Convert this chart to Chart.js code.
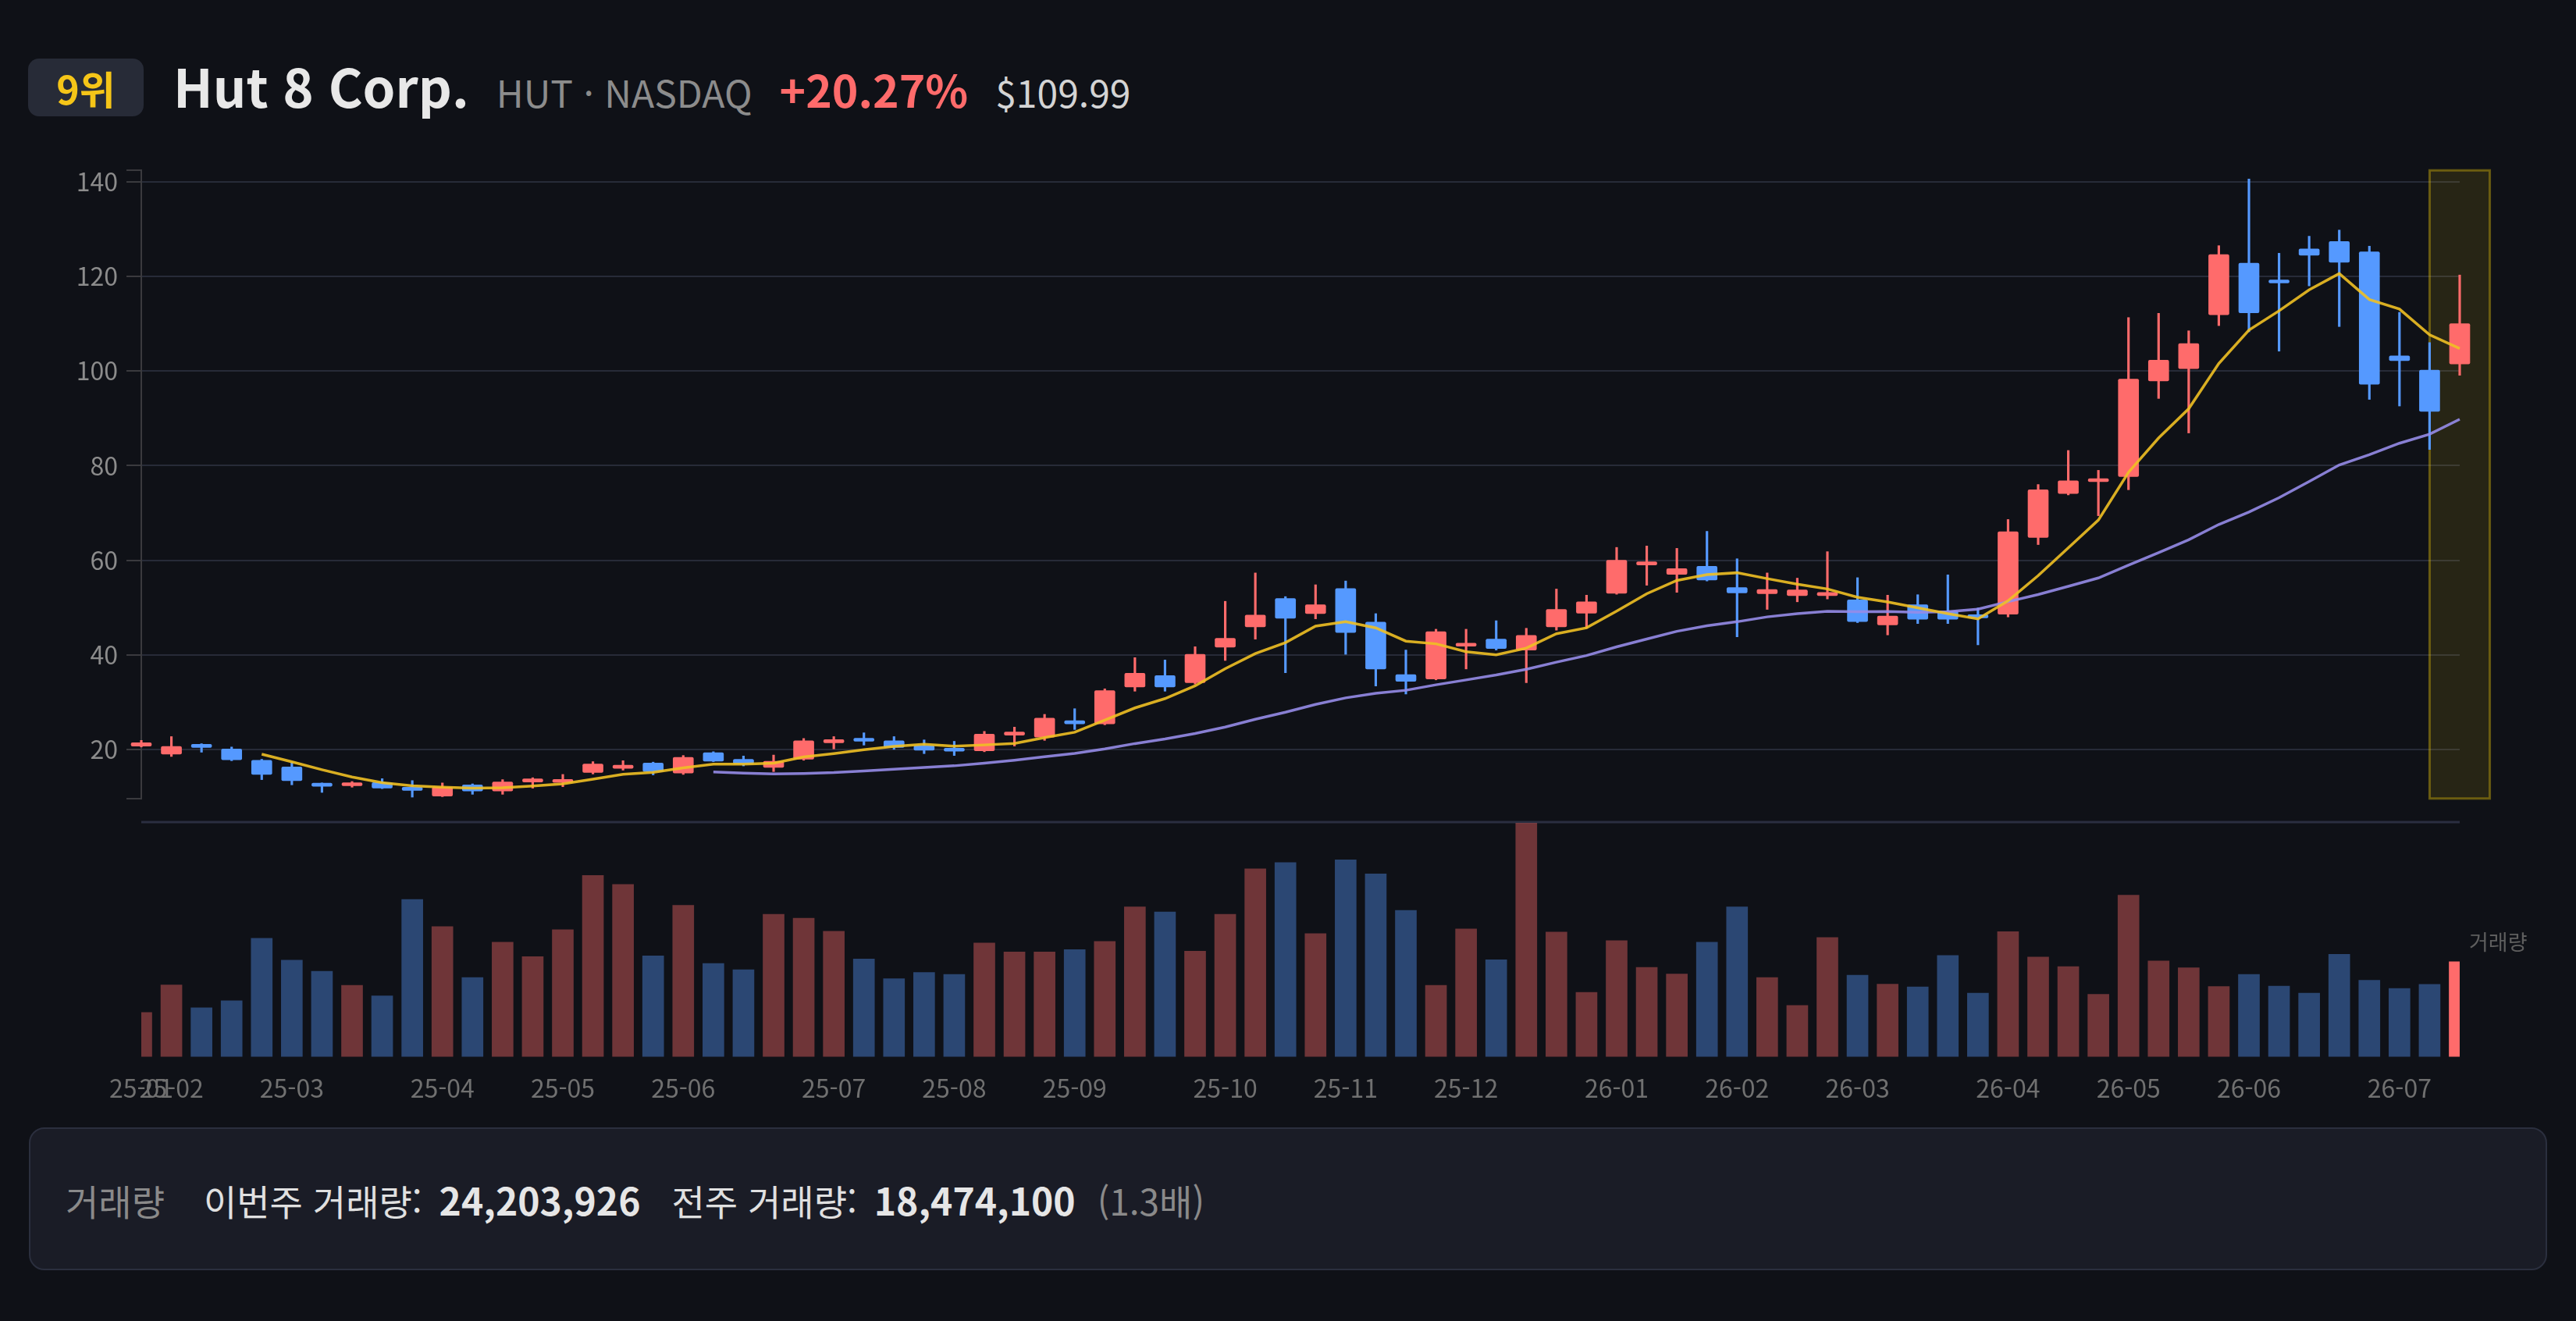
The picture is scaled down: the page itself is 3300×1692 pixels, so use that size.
<!DOCTYPE html>
<html lang="ko">
<head>
<meta charset="utf-8">
<title>Hut 8 Corp. 주봉</title>
<script src="https://cdn.jsdelivr.net/npm/chart.js@4.4.1/dist/chart.umd.min.js"></script>
<style>
  html, body { margin: 0; padding: 0; background: #0f1117; }
  body { width: 3300px; height: 1692px; position: relative; overflow: hidden;
         font-family: "Noto Sans CJK KR", "Noto Sans", sans-serif; }
  #header { position: absolute; left: 36px; top: 75px; height: 74px; display: flex; align-items: center; }
  .badge { width: 148px; height: 74px; border-radius: 14px; background: #272b37; color: #f5c518;
           font-weight: 700; font-size: 50px; display: flex; align-items: center; justify-content: center; }
  .titles { display: flex; align-items: baseline; margin-left: 38px; gap: 35px; position: relative; top: -4px; white-space: nowrap; }
  .name { font-size: 67px; font-weight: 700; color: #e8e8e8; }
  .ticker { font-size: 48px; color: #8c8c8c; }
  .pct { font-size: 57px; font-weight: 700; color: #ff6b6b; }
  .price { font-size: 48px; color: #d4d4d4; }
  #priceWrap { position: absolute; left: 0; top: 188px; width: 3300px; height: 865px; }
  #volWrap { position: absolute; left: 0; top: 1040px; width: 3300px; height: 404px; }
  #volLabel { position: absolute; left: 3163px; top: 1186px; font-size: 27px; color: #5e5e5e; }
  #footer { position: absolute; left: 37px; top: 1444px; width: 3226px; height: 183px; box-sizing: border-box;
            border: 2px solid #2b2f3e; border-radius: 20px; background: #1a1c26;
            display: flex; align-items: center; padding-left: 45px; white-space: nowrap; }
  .frow { display: flex; align-items: baseline; }
  .flabel { font-size: 46px; color: #8a8a8a; margin-right: 50px; }
  .fk { font-size: 46px; color: #e0e0e0; margin-right: 22px; }
  .fv { font-size: 48px; font-weight: 700; color: #e6e6e6; }
  .fr { font-size: 46px; color: #8a8a8a; margin-left: 28px; }
</style>
</head>
<body>
<div id="header">
  <div class="badge">9위</div>
  <div class="titles">
    <span class="name">Hut 8 Corp.</span>
    <span class="ticker">HUT · NASDAQ</span>
    <span class="pct">+20.27%</span>
    <span class="price">$109.99</span>
  </div>
</div>
<div id="priceWrap"><canvas id="priceChart"></canvas></div>
<div id="volWrap"><canvas id="volumeChart"></canvas></div>
<div id="volLabel">거래량</div>
<div id="footer">
  <div class="frow">
    <span class="flabel">거래량</span>
    <span class="fk">이번주 거래량:</span>
    <span class="fv" style="margin-right:40px">24,203,926</span>
    <span class="fk">전주 거래량:</span>
    <span class="fv">18,474,100</span>
    <span class="fr">(1.3배)</span>
  </div>
</div>
<script>
// 주봉 데이터 (월요일 기준)
const weeks = [
  '2025-01-27',
  '2025-02-03', '2025-02-10', '2025-02-17', '2025-02-24',
  '2025-03-03', '2025-03-10', '2025-03-17', '2025-03-24', '2025-03-31',
  '2025-04-07', '2025-04-14', '2025-04-21', '2025-04-28',
  '2025-05-05', '2025-05-12', '2025-05-19', '2025-05-26',
  '2025-06-02', '2025-06-09', '2025-06-16', '2025-06-23', '2025-06-30',
  '2025-07-07', '2025-07-14', '2025-07-21', '2025-07-28',
  '2025-08-04', '2025-08-11', '2025-08-18', '2025-08-25',
  '2025-09-01', '2025-09-08', '2025-09-15', '2025-09-22', '2025-09-29',
  '2025-10-06', '2025-10-13', '2025-10-20', '2025-10-27',
  '2025-11-03', '2025-11-10', '2025-11-17', '2025-11-24',
  '2025-12-01', '2025-12-08', '2025-12-15', '2025-12-22', '2025-12-29',
  '2026-01-05', '2026-01-12', '2026-01-19', '2026-01-26',
  '2026-02-02', '2026-02-09', '2026-02-16', '2026-02-23',
  '2026-03-02', '2026-03-09', '2026-03-16', '2026-03-23', '2026-03-30',
  '2026-04-06', '2026-04-13', '2026-04-20', '2026-04-27',
  '2026-05-04', '2026-05-11', '2026-05-18', '2026-05-25',
  '2026-06-01', '2026-06-08', '2026-06-15', '2026-06-22', '2026-06-29',
  '2026-07-06', '2026-07-13', '2026-07-20'
];

const opens = [
  20.7, 19.0, 21.0, 20.1, 17.7, 16.3, 12.5, 12.3, 13.0, 12.0,
  10.1, 12.5, 11.2, 13.1, 13.0, 15.1, 16.0, 17.1, 15.0, 19.3,
  17.9, 16.2, 17.9, 21.4, 22.1, 21.8, 20.8, 19.9, 19.7, 23.0,
  22.6, 25.7, 25.4, 33.2, 35.6, 34.1, 41.6, 45.9, 51.9, 48.7,
  54.0, 46.9, 35.8, 34.9, 41.8, 43.3, 41.0, 45.9, 48.8, 53.0,
  59.0, 57.0, 58.7, 54.2, 52.9, 52.5, 52.5, 51.6, 46.3, 50.6,
  49.2, 48.1, 48.6, 64.8, 74.1, 76.6, 77.7, 97.9, 100.5, 111.9,
  122.8, 118.8, 125.8, 127.4, 125.2, 103.2, 100.2, 101.5
];
const highs = [
  21.9, 22.7, 21.2, 20.5, 17.9, 17.3, 12.9, 13.2, 13.8, 13.4,
  12.9, 12.7, 13.6, 14.0, 14.7, 17.4, 17.6, 17.3, 18.7, 19.5,
  18.6, 18.8, 22.3, 22.7, 23.5, 22.7, 22.0, 21.7, 23.8, 24.7,
  27.4, 28.6, 32.8, 39.4, 38.9, 41.7, 51.3, 57.3, 52.3, 54.8,
  55.6, 48.7, 41.0, 45.4, 45.4, 47.2, 45.6, 53.9, 52.6, 62.7,
  63.0, 62.5, 66.1, 60.3, 57.3, 56.2, 61.8, 56.3, 52.6, 52.7,
  56.9, 49.9, 68.6, 76.0, 83.2, 79.0, 111.3, 112.2, 108.5, 126.5,
  140.6, 124.9, 128.5, 129.8, 126.4, 112.4, 106.0, 120.3
];
const lows = [
  20.5, 18.5, 19.4, 17.6, 13.6, 12.5, 10.9, 12.0, 11.7, 9.9,
  10.0, 10.5, 10.5, 11.8, 12.1, 14.8, 15.6, 14.6, 14.7, 17.4,
  16.5, 15.3, 17.7, 20.1, 20.9, 20.0, 19.1, 18.7, 19.5, 20.7,
  21.9, 24.2, 25.2, 32.3, 32.3, 33.8, 38.8, 43.3, 36.2, 47.6,
  40.1, 33.4, 31.7, 34.7, 37.0, 41.0, 34.1, 45.2, 45.6, 52.8,
  54.7, 53.2, 55.6, 43.8, 49.6, 51.2, 51.8, 46.8, 44.2, 46.6,
  46.6, 42.1, 48.0, 63.3, 73.8, 69.4, 74.9, 94.2, 86.9, 109.6,
  108.3, 104.2, 118.0, 109.4, 94.0, 92.6, 83.4, 99.1
];
const closes = [
  21.4, 20.6, 20.4, 17.8, 14.7, 13.4, 12.2, 12.7, 11.8, 11.3,
  12.0, 11.2, 13.1, 13.6, 13.6, 16.9, 16.4, 15.3, 18.3, 17.5,
  16.9, 17.5, 21.8, 21.8, 21.7, 20.4, 19.8, 19.6, 23.2, 23.3,
  26.6, 25.4, 32.4, 36.1, 33.2, 40.1, 43.5, 48.4, 47.7, 50.6,
  44.7, 37.0, 34.4, 44.9, 42.3, 41.3, 44.1, 49.6, 51.2, 60.0,
  59.6, 58.2, 55.8, 53.1, 53.8, 53.7, 53.2, 47.0, 48.2, 47.5,
  47.5, 47.8, 66.0, 74.9, 76.8, 76.9, 98.3, 102.3, 105.8, 124.6,
  112.3, 118.6, 124.5, 123.0, 97.2, 102.2, 91.45, 109.99
];
const volumes = [
  11300000, 18300000, 12500000, 14300000, 30200000, 24600000, 21800000, 18200000, 15500000, 40100000,
  33200000, 20200000, 29200000, 25500000, 32400000, 46200000, 43900000, 25700000, 38600000, 23800000,
  22200000, 36300000, 35300000, 32000000, 24900000, 19900000, 21500000, 21000000, 29000000, 26700000,
  26700000, 27300000, 29400000, 38200000, 36900000, 26900000, 36300000, 47900000, 49500000, 31400000,
  50200000, 46600000, 37300000, 18200000, 32600000, 24700000, 59600000, 31800000, 16400000, 29600000,
  22800000, 21100000, 29200000, 38200000, 20200000, 13100000, 30400000, 20800000, 18500000, 17800000,
  25800000, 16200000, 31900000, 25400000, 23000000, 15900000, 41200000, 24400000, 22700000, 17900000,
  21000000, 18000000, 16200000, 26100000, 19500000, 17400000, 18474100, 24203926
];
const priceTicks = [20, 40, 60, 80, 100, 120, 140];

const UP = '#ff6b6b';
const DOWN = '#5599ff';
const last = weeks.length - 1;

Chart.defaults.font.family = '"Noto Sans CJK KR", "Noto Sans", sans-serif';
Chart.defaults.animation = false;

// 이동평균 (종가 기준)
function movingAverage(values, n) {
  return values.map((v, i) => {
    if (i < n - 1) return null;
    let sum = 0;
    for (let k = i - n + 1; k <= i; k++) sum += values[k];
    return sum / n;
  });
}

function monthLabel(i) {
  const cur = weeks[i].slice(2, 7);
  if (i === 0 || weeks[i - 1].slice(2, 7) !== cur) return cur;
  return '';
}

const isUp = closes.map((c, i) => c >= opens[i]);
const candleColors = isUp.map(u => (u ? UP : DOWN));
const yMin = Math.min(...lows) * 0.97;
const yMax = Math.max(...highs) * 1.013;

// 마지막 주 강조 박스
const highlightLast = {
  id: 'highlightLast',
  beforeDatasetsDraw(chart) {
    const { ctx, chartArea, scales } = chart;
    const x = scales.x;
    const cx = x.getPixelForValue(last);
    const step = x.getPixelForValue(1) - x.getPixelForValue(0);
    ctx.save();
    ctx.fillStyle = 'rgba(255, 214, 10, 0.1)';
    ctx.fillRect(cx - step, chartArea.top, step * 2, chartArea.bottom - chartArea.top);
    ctx.strokeStyle = 'rgba(255, 214, 10, 0.35)';
    ctx.lineWidth = 3;
    ctx.strokeRect(cx - step, chartArea.top, step * 2, chartArea.bottom - chartArea.top);
    ctx.restore();
  }
};

new Chart(document.getElementById('priceChart'), {
  type: 'bar',
  data: {
    labels: weeks,
    datasets: [
      {
        type: 'line', label: 'MA5', data: movingAverage(closes, 5), order: 0,
        borderColor: 'rgba(240, 192, 36, 0.9)', borderWidth: 3.5, pointRadius: 0, tension: 0
      },
      {
        type: 'line', label: 'MA20', data: movingAverage(closes, 20), order: 0,
        borderColor: 'rgba(150, 140, 232, 0.9)', borderWidth: 3.5, pointRadius: 0, tension: 0
      },
      {
        label: 'body', data: opens.map((o, i) => [o, closes[i]]), order: 1,
        backgroundColor: candleColors, barThickness: 26, minBarLength: 4,
        borderRadius: 2, borderSkipped: false, grouped: false, clip: false
      },
      {
        label: 'wick', data: lows.map((l, i) => [l, highs[i]]), order: 2,
        backgroundColor: candleColors, barThickness: 2.5, grouped: false, clip: false
      }
    ]
  },
  options: {
    responsive: true,
    maintainAspectRatio: false,
    layout: { padding: { top: 0, bottom: 0, right: 149, left: 0 } },
    plugins: { legend: { display: false }, tooltip: { enabled: false } },
    scales: {
      x: { type: 'category', offset: false, display: false },
      y: {
        min: yMin,
        max: yMax,
        afterFit: s => { s.width = 181; },
        afterBuildTicks: s => {
          s.ticks = [yMin, ...priceTicks, yMax].map(v => ({ value: v }));
        },
        border: { color: '#3a3a3e', width: 2 },
        grid: {
          color: c => (priceTicks.includes(c.tick && c.tick.value) ? '#272b38' : 'rgba(0,0,0,0)'),
          lineWidth: 2,
          tickColor: '#3a3a3e',
          tickLength: 19
        },
        ticks: {
          color: '#8c8c8c',
          font: { size: 32 },
          padding: 11,
          callback: v => (priceTicks.includes(v) ? String(v) : '')
        }
      }
    }
  },
  plugins: [highlightLast]
});

// 거래량 영역 위 구분선
const topRule = {
  id: 'topRule',
  beforeDatasetsDraw(chart) {
    const { ctx, chartArea } = chart;
    ctx.save();
    ctx.strokeStyle = '#2a2e40';
    ctx.lineWidth = 3;
    ctx.beginPath();
    ctx.moveTo(chartArea.left, chartArea.top - 1);
    ctx.lineTo(chartArea.right, chartArea.top - 1);
    ctx.stroke();
    ctx.restore();
  }
};

new Chart(document.getElementById('volumeChart'), {
  type: 'bar',
  data: {
    labels: weeks,
    datasets: [{
      label: '거래량',
      data: volumes,
      backgroundColor: isUp.map((u, i) => (i === last ? UP : (u ? 'rgba(255,107,107,0.4)' : 'rgba(85,153,255,0.4)'))),
      barThickness: 27
    }]
  },
  options: {
    responsive: true,
    maintainAspectRatio: false,
    layout: { padding: { top: 14, bottom: 10, left: 181, right: 149 } },
    plugins: { legend: { display: false }, tooltip: { enabled: false } },
    scales: {
      x: {
        type: 'category',
        offset: false,
        grid: { display: false, drawTicks: false },
        border: { display: false },
        ticks: {
          color: '#707070',
          font: { size: 32 },
          padding: 21,
          autoSkip: false,
          maxRotation: 0,
          callback: (v, i) => monthLabel(i)
        }
      },
      y: { display: false, min: 0, max: Math.max(...volumes) }
    }
  },
  plugins: [topRule]
});
</script>
</body>
</html>
